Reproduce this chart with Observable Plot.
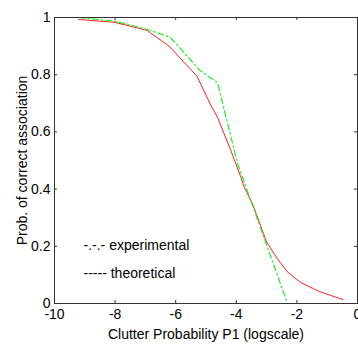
<!DOCTYPE html>
<html>
<head>
<meta charset="utf-8">
<script src="https://cdn.jsdelivr.net/npm/d3@7"></script>
<script src="https://cdn.jsdelivr.net/npm/@observablehq/plot@0.6"></script>
<style>
  html, body { margin: 0; padding: 0; background: #fff; }
  #chart svg { font-family: "Liberation Sans", Arial, sans-serif; }
</style>
</head>
<body>
<div id="chart"></div>
<script>
// Theoretical (solid red)
const theoX = [-9.2, -8.0, -6.94, -6.83, -6.22, -5.3, -4.84, -4.62, -4.18, -3.85, -3.74, -3.46, -3.0, -2.64, -2.31, -1.87, -1.26, -0.49];
const theoY = [0.993, 0.983, 0.955, 0.946, 0.900, 0.795, 0.693, 0.651, 0.535, 0.442, 0.407, 0.347, 0.215, 0.156, 0.110, 0.073, 0.042, 0.014];
// Experimental (green dash-dot)
const expX = [-9.2, -8.0, -7.0, -6.2, -6.0, -5.2, -4.62, -3.96, -2.31, -0.49];
const expY = [1.0, 0.987, 0.960, 0.932, 0.910, 0.815, 0.772, 0.490, 0.0, 0.0];

const xTicks = [-10, -8, -6, -4, -2, 0];
const yTicks = [0, 0.2, 0.4, 0.6, 0.8, 1];
const xLabel = "Clutter Probability P1 (logscale)";
const yLabel = "Prob. of correct association";
const legendExp = "-.-.- experimental";
const legendTheo = "----- theoretical";

const theo = theoX.map((x, i) => ({x, y: theoY[i]}));
const exp = expX.map((x, i) => ({x, y: expY[i]}));

const W = 358, H = 345, mT = 17, mB = 42, mL = 54, mR = 1;
const pH = H - mT - mB, pW = W - mL - mR;
const axisColor = "#333";

const chart = Plot.plot({
  width: W, height: H,
  marginTop: mT, marginBottom: mB, marginLeft: mL, marginRight: mR,
  style: {fontSize: "14px", fontFamily: "'Liberation Sans', Arial, sans-serif", color: "#000", background: "#fff", overflow: "visible"},
  x: {domain: [-10, 0]},
  y: {domain: [0, 1]},
  marks: [
    Plot.line(theo, {x: "x", y: "y", stroke: "#ff2020", strokeWidth: 1}),
    Plot.line(exp, {x: "x", y: "y", stroke: "#22ee22", strokeWidth: 1.2, strokeDasharray: "6,3,1.5,3"}),
    Plot.frame({stroke: axisColor, strokeWidth: 1}),
    Plot.tickX(xTicks, {x: d => d, insetTop: pH - 3, stroke: axisColor}),
    Plot.tickX(xTicks, {x: d => d, insetBottom: pH - 3, stroke: axisColor}),
    Plot.tickY(yTicks, {y: d => d, insetRight: pW - 3, stroke: axisColor}),
    Plot.tickY(yTicks, {y: d => d, insetLeft: pW - 3, stroke: axisColor}),
    Plot.axisX({ticks: xTicks, tickSize: 0, tickPadding: 6, fontSize: 14, tickFormat: d => String(d),
      label: xLabel, labelAnchor: "center", labelOffset: 35, labelArrow: "none"}),
    Plot.axisY({ticks: yTicks, tickSize: 0, tickPadding: 4, fontSize: 14,
      tickFormat: d => (d === 0 || d === 1) ? String(d) : d.toFixed(1),
      label: yLabel, labelAnchor: "center", labelOffset: 37, labelArrow: "none"}),
    Plot.text([legendExp], {text: d => d, frameAnchor: "bottom-left", dx: 29, dy: -54, textAnchor: "start", fontSize: 14, fill: "#000"}),
    Plot.text([legendTheo], {text: d => d, frameAnchor: "bottom-left", dx: 29, dy: -26, textAnchor: "start", fontSize: 14, fill: "#000"})
  ]
});
document.getElementById("chart").appendChild(chart);
</script>
</body>
</html>
